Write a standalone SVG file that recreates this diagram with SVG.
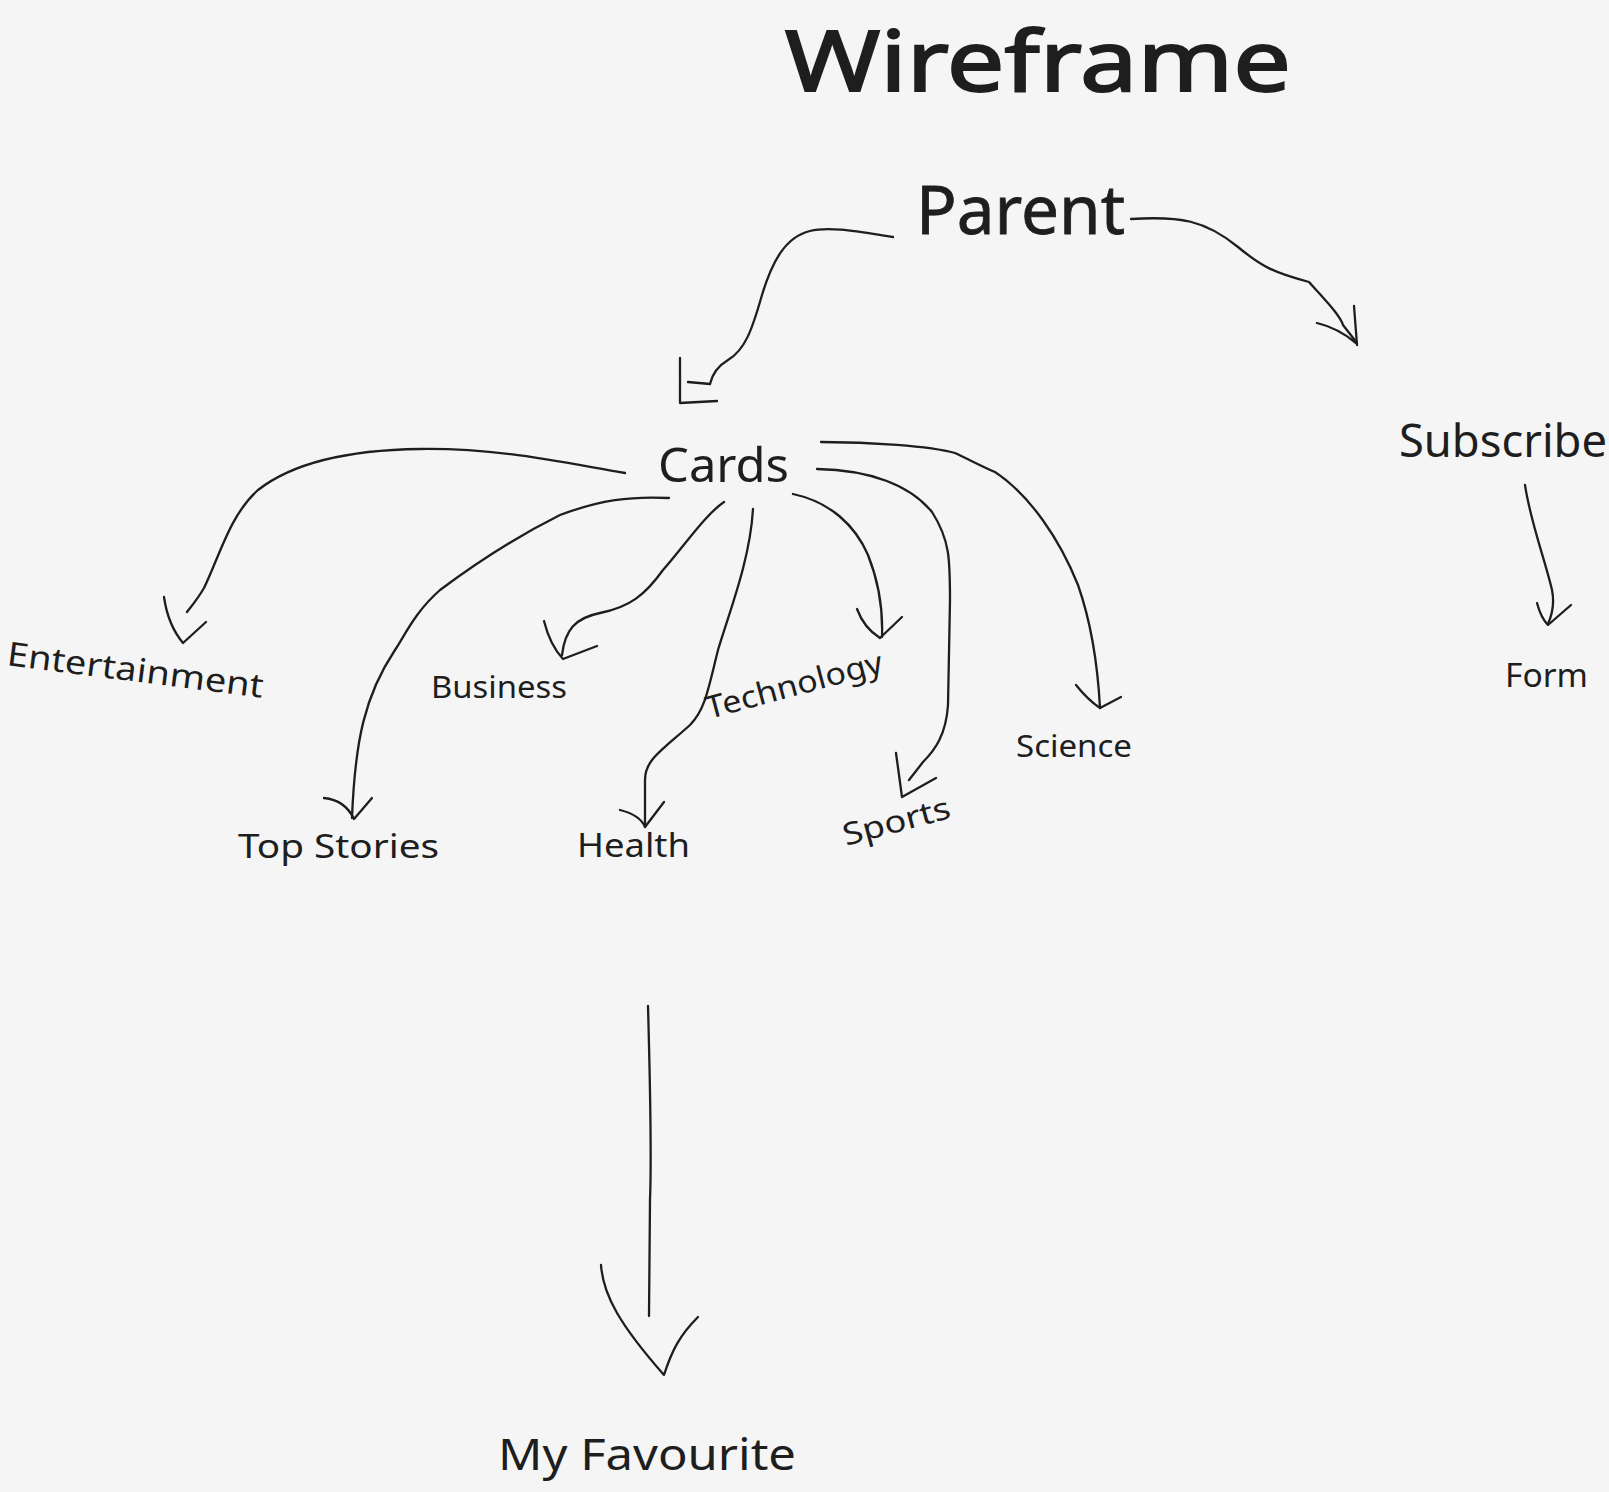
<svg xmlns="http://www.w3.org/2000/svg" width="1609" height="1492" viewBox="0 0 1609 1492">
<style>
.t{font-family:"Noto Sans","Liberation Sans",sans-serif;fill:#1e1e1e}
.c path{fill:none;stroke:#1e1e1e;stroke-width:2.3;stroke-linecap:round;stroke-linejoin:round}
</style>
<rect width="1609" height="1492" fill="#f5f5f5"/>
<g id="title"><text class="t" x="785" y="91" font-size="84" textLength="506" lengthAdjust="spacingAndGlyphs" stroke="#1e1e1e" stroke-width="2">Wireframe</text></g>
<g id="parent"><text class="t" x="916" y="234" font-size="68" textLength="209" lengthAdjust="spacingAndGlyphs" stroke="#1e1e1e" stroke-width="0.8">Parent</text></g>
<g id="cards"><text class="t" x="658" y="482" font-size="48" textLength="131" lengthAdjust="spacingAndGlyphs">Cards</text></g>
<g id="subscribe"><text class="t" x="1399" y="457" font-size="46" textLength="208" lengthAdjust="spacingAndGlyphs">Subscribe</text></g>
<g id="form"><text class="t" x="1505" y="687" font-size="32" textLength="83" lengthAdjust="spacingAndGlyphs">Form</text></g>
<g id="entertainment"><text class="t" x="6" y="665" font-size="33" textLength="258" lengthAdjust="spacingAndGlyphs" transform="rotate(7.3 6 665)">Entertainment</text></g>
<g id="topstories"><text class="t" x="238" y="858" font-size="33" textLength="201" lengthAdjust="spacingAndGlyphs">Top Stories</text></g>
<g id="business"><text class="t" x="431" y="698" font-size="31" textLength="136" lengthAdjust="spacingAndGlyphs">Business</text></g>
<g id="health"><text class="t" x="577" y="857" font-size="33" textLength="113" lengthAdjust="spacingAndGlyphs">Health</text></g>
<g id="technology"><text class="t" x="709" y="719" font-size="31" textLength="182" lengthAdjust="spacingAndGlyphs" transform="rotate(-15 709 719)">Technology</text></g>
<g id="sports"><text class="t" x="846" y="846" font-size="31" textLength="110" lengthAdjust="spacingAndGlyphs" transform="rotate(-15 846 846)">Sports</text></g>
<g id="science"><text class="t" x="1016" y="757" font-size="31" textLength="116" lengthAdjust="spacingAndGlyphs">Science</text></g>
<g id="myfavourite"><text class="t" x="498" y="1470" font-size="44" textLength="298" lengthAdjust="spacingAndGlyphs">My Favourite</text></g>
<g id="connectors" class="c">
<path d="M893,237 C860,232 830,226 810,231 C785,237 772,262 762,295 C752,330 745,350 728,360 C718,366 712,375 710,384"/>
<path d="M688,382 L710,384 M680,358 L680,403 L717,401"/>
<path d="M1131,219 C1180,216 1205,220 1238,247 C1262,267 1275,273 1309,282 C1325,300 1340,315 1343,325 L1357,343"/>
<path d="M1317,323 Q1338,328 1356,343 M1354,306 L1357,345"/>
<path d="M1525,485 C1530,520 1545,560 1552,590 C1555,605 1552,615 1548,624"/>
<path d="M1537,603 Q1541,618 1548,625 L1571,605"/>
<path d="M625,473 C560,462 500,448 420,449 C340,450 290,465 258,490 C230,515 220,555 204,588 C197,600 190,608 187,612"/>
<path d="M164,597 Q168,625 183,643 L206,622"/>
<path d="M669,498 C630,496 600,500 560,515 C520,535 480,560 440,590 C415,612 405,635 395,650 C365,695 355,740 352,818"/>
<path d="M324,798 Q345,800 354,819 L372,798"/>
<path d="M724,502 C705,515 685,545 663,570 C645,595 630,607 600,613 C575,618 565,630 562,655"/>
<path d="M544,621 Q550,645 563,659 L597,646"/>
<path d="M753,509 C750,560 730,610 718,650 C708,690 705,710 690,725 C660,752 645,760 645,780 L645,827"/>
<path d="M620,810 Q640,815 645,827 L664,802"/>
<path d="M793,494 C830,502 855,525 868,555 C880,585 883,610 882,637"/>
<path d="M857,609 Q864,628 880,638 L902,617"/>
<path d="M817,469 C870,470 910,485 932,512 C950,540 950,560 950,600 L948,705 C946,735 935,750 923,762 L909,780"/>
<path d="M896,753 L902,797 L936,778"/>
<path d="M821,442 C870,442 930,446 955,453 C970,460 985,468 995,472 C1030,495 1060,540 1078,585 C1092,625 1098,670 1100,708"/>
<path d="M1076,685 Q1088,700 1100,708 L1121,697"/>
<path d="M648,1006 C650,1080 652,1150 650,1200 L649,1316"/>
<path d="M601,1265 C603,1295 620,1325 664,1375 C672,1350 680,1335 698,1317"/>
</g>
</svg>
